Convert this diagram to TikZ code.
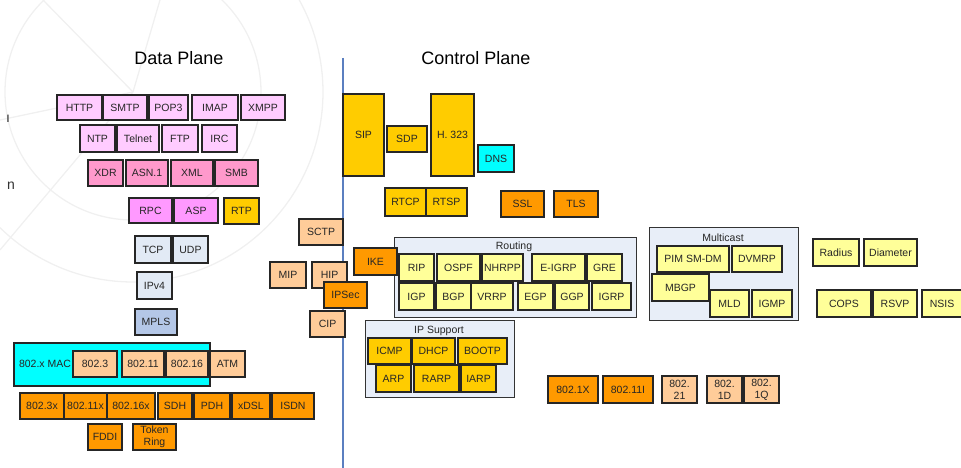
\documentclass[tikz,border=0pt]{standalone}
\usepackage{fontspec}
\setmainfont{Liberation Sans}
\definecolor{apppink}{HTML}{FFCCFF}
\definecolor{prespink}{HTML}{FF99CC}
\definecolor{sesspink}{HTML}{FF99FF}
\definecolor{gold}{HTML}{FFCC00}
\definecolor{orng}{HTML}{FF9900}
\definecolor{peach}{HTML}{FFCC99}
\definecolor{transblue}{HTML}{E2EAF5}
\definecolor{mplsblue}{HTML}{B4C7E7}
\definecolor{groupfill}{HTML}{E8EEF8}
\definecolor{paleyellow}{HTML}{FFFF99}
\definecolor{aqua}{HTML}{00FFFF}
\definecolor{planeline}{HTML}{5B7FC0}
\definecolor{boxtext}{HTML}{262626}
\tikzset{
  box/.style={draw=black!85, line width=1.1pt, inner sep=0pt, outer sep=0pt,
    font=\fontsize{10.5}{11.5}\selectfont, text=boxtext, align=center},
  group/.style={draw=black!80, line width=1pt, fill=groupfill, inner sep=0pt},
  grouplabel/.style={font=\fontsize{10.5}{11.5}\selectfont, text=boxtext, inner sep=0pt},
  planetitle/.style={font=\fontsize{18}{20}\selectfont, inner sep=0pt},
  watermark/.style={draw=black!6, line width=1.3pt},
  twoline/.style={font=\fontsize{10.5}{12}\selectfont},
}
% \protobox{name}{x1}{y1}{x2}{y2}{style}{label}
\newcommand\protobox[7]{%
  \node[box,#6,minimum width={(#4-#2)*1pt},minimum height={(#5-#3)*1pt}]
    (#1) at ({(#2+#4)/2},{(#3+#5)/2}) {#7};}
\begin{document}
\begin{tikzpicture}[x=1pt,y=-1pt]
\useasboundingbox (0,0) rectangle (961,468);
\clip (0,0) rectangle (961,468);

% faint polar graphic behind the data plane
\coordinate (pole) at (133,92);
\draw[watermark] (pole) circle[radius=128];
\draw[watermark] (pole) circle[radius=190];
\coordinate (ray1) at (43,0);
\coordinate (ray2) at (160,0);
\coordinate (ray3) at (0,120);
\coordinate (ray4) at (0,250);
\foreach \r in {ray1,ray2,ray3,ray4} \draw[watermark] (pole) -- (\r);

% clipped letters at the left edge
\node[font=\fontsize{14}{16}\selectfont, text=black!80, inner sep=0pt] (edgeA) at (8,119) {ı};
\node[font=\fontsize{14}{16}\selectfont, text=black!80, inner sep=0pt] (edgeB) at (11,186) {n};

% plane titles and divider
\node[planetitle] (dataplane) at (179,58) {Data Plane};
\node[planetitle] (ctrlplane) at (476,58) {Control Plane};
\coordinate (divtop) at (343,58);
\coordinate (divbot) at (343,468);
\draw[planeline, line width=1.2pt] (divtop) -- (divbot);

% ---------------- data plane ----------------
\protobox{http}{57}{95}{102}{120}{fill=apppink}{HTTP}
\protobox{smtp}{103}{95}{147}{120}{fill=apppink}{SMTP}
\protobox{pop}{149}{95}{188}{120}{fill=apppink}{POP3}
\protobox{imap}{192}{95}{238}{120}{fill=apppink}{IMAP}
\protobox{xmpp}{241}{95}{285}{120}{fill=apppink}{XMPP}
\protobox{ntp}{80}{125}{115}{152}{fill=apppink}{NTP}
\protobox{telnet}{117}{125}{159}{152}{fill=apppink}{Telnet}
\protobox{ftp}{162}{125}{198}{152}{fill=apppink}{FTP}
\protobox{irc}{202}{125}{237}{152}{fill=apppink}{IRC}

\protobox{xdr}{88}{160}{123}{186}{fill=prespink}{XDR}
\protobox{asn}{126}{160}{168}{186}{fill=prespink}{ASN.1}
\protobox{xml}{171}{160}{213}{186}{fill=prespink}{XML}
\protobox{smb}{215}{160}{258}{186}{fill=prespink}{SMB}

\protobox{rpc}{129}{198}{172}{223}{fill=sesspink}{RPC}
\protobox{asp}{174}{198}{218}{223}{fill=sesspink}{ASP}
\protobox{rtp}{224}{198}{259}{224}{fill=gold}{RTP}

\protobox{tcp}{135}{236}{171}{263}{fill=transblue}{TCP}
\protobox{udp}{173}{236}{208}{263}{fill=transblue}{UDP}
\protobox{ipv}{137}{272}{172}{299}{fill=transblue}{IPv4}
\protobox{mpls}{135}{309}{177}{335}{fill=mplsblue}{MPLS}

\node[box,fill=aqua,minimum width=196pt,minimum height=43pt] (macgroup) at (112,364.5) {};
\node[box,draw=none,fill=none] (maclabel) at (45,364) {802.x MAC};
\protobox{m8023}{73}{351}{117}{377}{fill=peach}{802.3}
\protobox{m80211}{122}{351}{164}{377}{fill=peach}{802.11}
\protobox{m80216}{166}{351}{208}{377}{fill=peach}{802.16}
\protobox{atm}{210}{351}{245}{377}{fill=peach}{ATM}

\protobox{p8023x}{20}{393}{64}{419}{fill=orng}{802.3x}
\protobox{p80211x}{64}{393}{107}{419}{fill=orng}{802.11x}
\protobox{p80216x}{107}{393}{155}{419}{fill=orng}{802.16x}
\protobox{sdh}{158}{393}{192}{419}{fill=orng}{SDH}
\protobox{pdh}{194}{393}{230}{419}{fill=orng}{PDH}
\protobox{xdsl}{232}{393}{270}{419}{fill=orng}{xDSL}
\protobox{isdn}{272}{393}{314}{419}{fill=orng}{ISDN}
\protobox{fddi}{88}{424}{122}{450}{fill=orng}{FDDI}
\protobox{token}{133}{424}{176}{450}{fill=orng,twoline}{Token\\Ring}

% ---------------- between the planes ----------------
\protobox{sctp}{299}{219}{343}{245}{fill=peach}{SCTP}
\protobox{mip}{270}{262}{306}{288}{fill=peach}{MIP}
\protobox{hip}{312}{262}{347}{288}{fill=peach}{HIP}
\protobox{ipsec}{324}{282}{367}{308}{fill=orng}{IPSec}
\protobox{cip}{310}{311}{345}{337}{fill=peach}{CIP}

% ---------------- control plane ----------------
\protobox{sip}{343}{94}{384}{176}{fill=gold}{SIP}
\protobox{sdp}{387}{126}{427}{152}{fill=gold}{SDP}
\protobox{hset}{431}{94}{474}{176}{fill=gold}{H. 323}
\protobox{dns}{478}{145}{514}{172}{fill=aqua}{DNS}
\protobox{rtcp}{385}{188}{426}{216}{fill=gold}{RTCP}
\protobox{rtsp}{426}{188}{467}{216}{fill=gold}{RTSP}
\protobox{ssl}{501}{191}{544}{217}{fill=orng}{SSL}
\protobox{tls}{554}{191}{598}{217}{fill=orng}{TLS}

% routing group
\protobox{routing}{394}{237}{636}{317}{group}{}
\node[grouplabel] (routinglbl) at (514,247) {Routing};
\protobox{rip}{399}{254}{434}{281}{fill=paleyellow}{RIP}
\protobox{ospf}{437}{254}{480}{281}{fill=paleyellow}{OSPF}
\protobox{nhrpp}{482}{254}{523}{281}{fill=paleyellow}{NHRPP}
\protobox{eigrp}{532}{254}{585}{281}{fill=paleyellow}{E-IGRP}
\protobox{gre}{587}{254}{622}{281}{fill=paleyellow}{GRE}
\protobox{igp}{399}{283}{434}{310}{fill=paleyellow}{IGP}
\protobox{bgp}{436}{283}{471}{310}{fill=paleyellow}{BGP}
\protobox{vrrp}{471}{283}{513}{310}{fill=paleyellow}{VRRP}
\protobox{egp}{518}{283}{553}{310}{fill=paleyellow}{EGP}
\protobox{ggp}{555}{283}{589}{310}{fill=paleyellow}{GGP}
\protobox{igrp}{592}{283}{631}{310}{fill=paleyellow}{IGRP}
\protobox{ike}{354}{248}{397}{275}{fill=orng}{IKE}

% IP support group
\protobox{ipsup}{365}{320}{514}{397}{group}{}
\node[grouplabel] (ipsuplbl) at (439,331) {IP Support};
\protobox{icmp}{368}{338}{411}{364}{fill=gold}{ICMP}
\protobox{dhcp}{412}{338}{455}{364}{fill=gold}{DHCP}
\protobox{bootp}{458}{338}{507}{364}{fill=gold}{BOOTP}
\protobox{arp}{376}{365}{411}{392}{fill=gold}{ARP}
\protobox{rarp}{414}{365}{459}{392}{fill=gold}{RARP}
\protobox{iarp}{461}{365}{496}{392}{fill=gold}{IARP}

% multicast group
\protobox{mcast}{649}{227}{798}{320}{group}{}
\node[grouplabel] (mcastlbl) at (723,238) {Multicast};
\protobox{pim}{657}{246}{729}{272}{fill=paleyellow}{PIM SM-DM}
\protobox{dvmrp}{732}{246}{782}{272}{fill=paleyellow}{DVMRP}
\protobox{mbgp}{652}{274}{709}{301}{fill=paleyellow}{MBGP}
\protobox{mld}{710}{290}{749}{317}{fill=paleyellow}{MLD}
\protobox{igmp}{752}{290}{792}{317}{fill=paleyellow}{IGMP}

\protobox{radius}{813}{239}{859}{266}{fill=paleyellow}{Radius}
\protobox{diameter}{864}{239}{917}{266}{fill=paleyellow}{Diameter}
\protobox{cops}{817}{290}{871}{317}{fill=paleyellow}{COPS}
\protobox{rsvp}{873}{290}{917}{317}{fill=paleyellow}{RSVP}
\protobox{nsis}{922}{290}{962}{317}{fill=paleyellow}{NSIS}

\protobox{dotx}{548}{376}{598}{403}{fill=orng}{802.1X}
\protobox{dotelevi}{603}{376}{653}{403}{fill=orng}{802.11I}
\protobox{dottwoone}{662}{376}{697}{403}{fill=peach,twoline}{802.\\21}
\protobox{dotd}{707}{376}{742}{403}{fill=peach,twoline}{802.\\1D}
\protobox{dotq}{744}{376}{779}{403}{fill=peach,twoline}{802.\\1Q}
\end{tikzpicture}
\end{document}
